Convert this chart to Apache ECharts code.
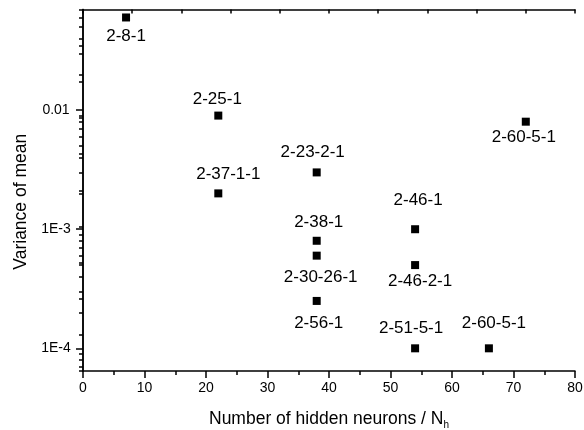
<!DOCTYPE html>
<html>
<head>
<meta charset="utf-8">
<script src="https://cdn.jsdelivr.net/npm/echarts@6/dist/echarts.min.js"></script>
<style>
  html, body { margin: 0; padding: 0; background: #fff; }
  #main { width: 584px; height: 430px; }
</style>
</head>
<body>
<div id="main"></div>
<script>
// network configurations
var netNames = ['2-8-1', '2-25-1', '2-37-1-1', '2-23-2-1', '2-60-5-1', '2-38-1',
                '2-30-26-1', '2-56-1', '2-46-1', '2-46-2-1', '2-51-5-1', '2-60-5-1'];
// number of hidden neurons
var hiddenNeurons = [7, 22, 22, 38, 72, 38, 38, 38, 54, 54, 54, 66];
// variance of mean
var varianceMean = [0.060, 0.009, 0.002, 0.003, 0.008, 0.0008, 0.0006, 0.00025, 0.001, 0.0005, 0.0001, 0.0001];

// y axis ticks
var yTickVals = [1e-4, 1e-3, 1e-2];
var yTickLabels = ['1E-4', '1E-3', '0.01'];
var yMinorVals = [];
for (var d = -5; d <= -2; d++) {
    for (var k = 2; k <= 9; k++) {
        yMinorVals.push(+(k * Math.pow(10, d)).toPrecision(3));
    }
}

// label offsets [dx, dy] from the marker centre
var labelOffsets = [[0, 19], [-1, -16], [10, -19], [-4, -20], [-2, 16], [2, -18],
                    [4, 22], [2, 22], [3, -29], [5, 16], [-4, -20], [5, -25]];

var FONT = 'Liberation Sans, Arial, sans-serif';
var yMin = 6.45e-5, yMax = 0.07;

var seriesData = [];
for (var i = 0; i < netNames.length; i++) {
    seriesData.push({
        name: netNames[i],
        value: [hiddenNeurons[i], varianceMean[i]],
        label: { offset: labelOffsets[i] }
    });
}

var myChart = echarts.init(document.getElementById('main'));
var option = {
    animation: false,
    backgroundColor: '#fff',
    grid: { left: 83, right: 9, top: 9.5, bottom: 59, outerBoundsMode: 'none', containLabel: false },
    xAxis: [
        {
            type: 'value', position: 'bottom',
            min: 0, max: 80, interval: 10,
            name: 'Number of hidden neurons / N{s|h}',
            nameLocation: 'middle', nameGap: 37,
            nameTextStyle: {
                color: '#000', fontFamily: FONT, fontSize: 17.5,
                rich: { s: { fontSize: 10, fontFamily: FONT, color: '#000', padding: [12, 0, 0, 0] } }
            },
            axisLine: { lineStyle: { color: '#000', width: 1.5 } },
            axisTick: { inside: false, length: 7, lineStyle: { color: '#000', width: 1.5 } },
            minorTick: { show: true, splitNumber: 2, length: 4, lineStyle: { color: '#000', width: 1.5 } },
            axisLabel: { color: '#000', fontFamily: FONT, fontSize: 14, margin: 10 },
            splitLine: { show: false }
        },
        {
            type: 'value', position: 'top',
            min: 0, max: 80, interval: 8,
            axisLine: { lineStyle: { color: '#000', width: 1.5 } },
            axisTick: { inside: true, length: 4, lineStyle: { color: '#000', width: 1.5 } },
            axisLabel: { show: false },
            splitLine: { show: false }
        }
    ],
    yAxis: [
        {
            type: 'log', position: 'left',
            min: yMin, max: yMax,
            name: 'Variance of mean',
            nameLocation: 'middle', nameGap: 53, nameRotate: 90,
            nameTextStyle: { color: '#000', fontFamily: FONT, fontSize: 17.5, padding: [0, 23, 0, 0] },
            axisLine: { lineStyle: { color: '#000', width: 1.5 } },
            axisTick: { customValues: yTickVals, length: 7, lineStyle: { color: '#000', width: 1.5 } },
            axisLabel: {
                customValues: yTickVals, color: '#000', fontFamily: FONT, fontSize: 14,
                margin: 27, align: 'center',
                formatter: function (v) {
                    for (var j = 0; j < yTickVals.length; j++) {
                        if (Math.abs(Math.log10(v) - Math.log10(yTickVals[j])) < 1e-6) return yTickLabels[j];
                    }
                    return '';
                }
            },
            splitLine: { show: false }
        },
        {
            type: 'value', position: 'right',
            min: 0, max: 10, interval: 1,
            axisLine: { show: true, lineStyle: { color: '#000', width: 1.5 } },
            axisTick: { show: true, inside: true, length: 4, lineStyle: { color: '#000', width: 1.5 } },
            axisLabel: { show: false },
            splitLine: { show: false }
        },
        {
            type: 'log', position: 'left',
            min: yMin, max: yMax,
            axisLine: { show: false },
            axisTick: { show: true, customValues: yMinorVals, length: 4, lineStyle: { color: '#000', width: 1.5 } },
            axisLabel: { show: false },
            splitLine: { show: false }
        }
    ],
    series: [
        {
            type: 'scatter',
            xAxisIndex: 0,
            yAxisIndex: 0,
            symbol: 'rect',
            symbolSize: 8,
            itemStyle: { color: '#000', opacity: 1 },
            label: {
                show: true,
                position: 'inside',
                formatter: '{b}',
                color: '#000',
                fontFamily: FONT,
                fontSize: 17
            },
            data: seriesData
        }
    ]
};
if (option && typeof option === "object") {
    myChart.setOption(option, true);
}
</script>
</body>
</html>
